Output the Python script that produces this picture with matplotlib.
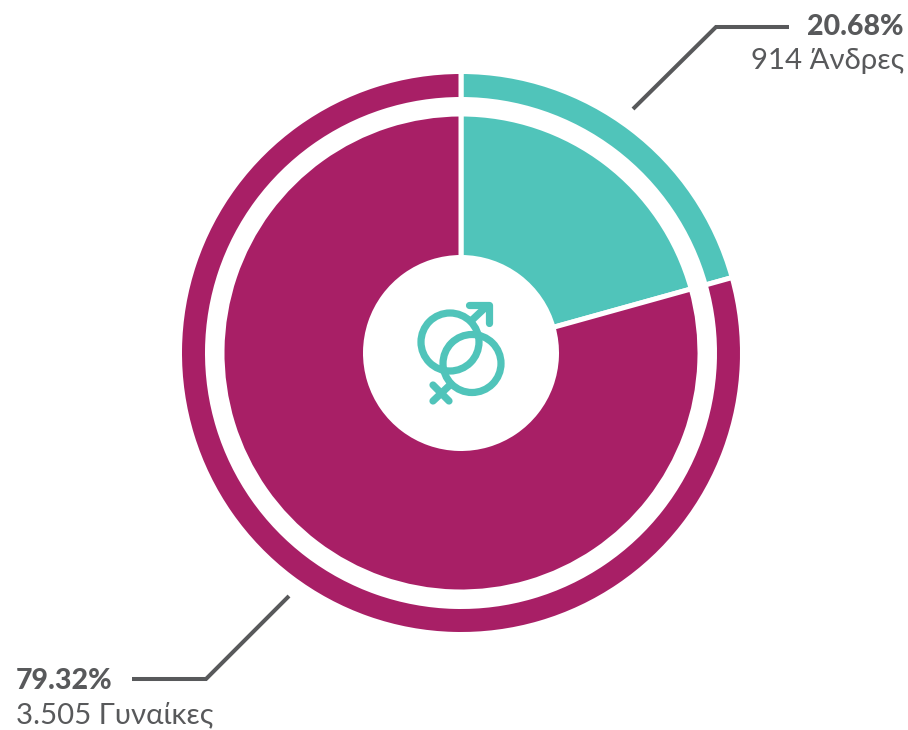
import matplotlib
matplotlib.use("Agg")
import matplotlib.pyplot as plt
from matplotlib.patches import Circle

categories = ["Άνδρες", "Γυναίκες"]
counts = [914, 3505]
count_labels = ["914", "3.505"]
percentages = [20.68, 79.32]
colors = ["#50c4ba", "#a81f66"]
TEXT = "#58595b"
FONT = ["Lato", "Noto Sans", "DejaVu Sans"]

W, H = 908, 730
fig = plt.figure(figsize=(W / 100, H / 100), dpi=100)

# pie is drawn in a y-up frame
pie_ax = fig.add_axes([0, 0, 1, 1])
cx, cy = 461, 353
gap_pt = 3.6
pad = gap_pt * 100 / 72 / 2
for r_out, r_in in [(279, 256), (236.5, 98)]:
    pie_ax.pie(percentages, colors=colors, startangle=90, counterclock=False,
               center=(cx, H - cy), radius=r_out + pad, frame=False,
               wedgeprops=dict(width=r_out - r_in + 2 * pad, edgecolor="white", linewidth=gap_pt))
pie_ax.set_xlim(0, W)
pie_ax.set_ylim(0, H)
pie_ax.set_aspect("equal")
pie_ax.axis("off")

# overlay for leaders, symbol, text in pixel coordinates
top = fig.add_axes([0, 0, 1, 1])
top.set_xlim(0, W)
top.set_ylim(H, 0)
top.axis("off")
top.patch.set_alpha(0)

for xs, ys in [([633, 716, 789], [109, 27, 27]), ([289, 206, 132], [596, 679, 679])]:
    top.plot(xs, ys, color=TEXT, lw=2.9, solid_joinstyle="miter", solid_capstyle="butt")

# gender symbol
teal = colors[0]
sw = 5.2
top.add_patch(Circle((450, 342), 29, fill=False, ec=teal, lw=sw))
top.add_patch(Circle((472, 363.5), 29, fill=False, ec=teal, lw=sw))
top.plot([469, 488.5, 488.5], [304.5, 304.5, 323], color=teal, lw=sw, solid_capstyle="round", solid_joinstyle="round")
top.plot([471, 488], [321, 305], color=teal, lw=sw, solid_capstyle="butt")
top.plot([451, 433], [384, 401], color=teal, lw=sw, solid_capstyle="round")
top.plot([433, 449], [385, 401], color=teal, lw=sw, solid_capstyle="round")

top.text(904, 27, f"{percentages[0]:.2f}%", ha="right", va="center", fontsize=20.5, fontweight=900, color=TEXT, family=FONT)
top.text(904, 61, f"{count_labels[0]} {categories[0]}", ha="right", va="center", fontsize=21.2, color=TEXT, family=FONT)
top.text(16, 681, f"{percentages[1]:.2f}%", ha="left", va="center", fontsize=20.5, fontweight=900, color=TEXT, family=FONT)
top.text(16, 715, f"{count_labels[1]} {categories[1]}", ha="left", va="center", fontsize=21.2, color=TEXT, family=FONT)

fig.savefig("out.png", dpi=100, facecolor="white")
